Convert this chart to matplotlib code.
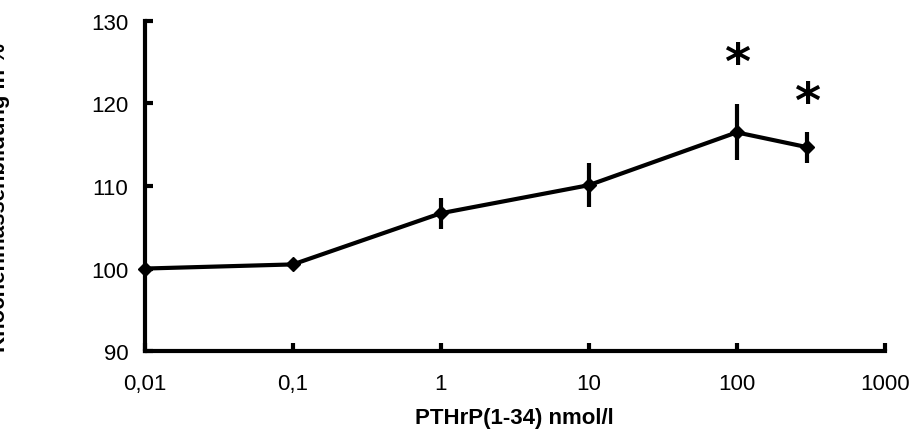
import numpy as np
import matplotlib
matplotlib.use("Agg")
import matplotlib.pyplot as plt
from matplotlib.ticker import FixedLocator, FixedFormatter

plt.rcParams['font.family'] = ['Liberation Sans', 'DejaVu Sans']

# data
conc = [0.01, 0.1, 1, 10, 100, 300]
mean = [100.0, 100.5, 106.7, 110.1, 116.5, 114.7]
err = [0.0, 0.3, 1.9, 2.7, 3.4, 1.9]
star_x = [100, 300]
star_y = [124.8, 120.0]
xticks = [0.01, 0.1, 1, 10, 100, 1000]
xticklabels = ["0,01", "0,1", "1", "10", "100", "1000"]
yticks = [90, 100, 110, 120, 130]

fig = plt.figure(figsize=(9.12, 4.39), dpi=100)
ax = fig.add_axes([0.159, 0.198, 0.811, 0.752])

ax.errorbar(conc, mean, yerr=err, color='black', lw=3, marker='D', ms=7,
            elinewidth=3, capsize=0, clip_on=False, zorder=3)

for x, y in zip(star_x, star_y):
    ax.text(x, y, "*", fontsize=36, fontweight='bold', ha='center', va='center',
            family=['DejaVu Sans'])

ax.set_xscale('log')
ax.set_xlim(0.01, 1000)
ax.set_ylim(90, 130)
ax.xaxis.set_major_locator(FixedLocator(xticks))
ax.xaxis.set_major_formatter(FixedFormatter(xticklabels))
ax.xaxis.set_minor_locator(FixedLocator([]))
ax.set_yticks(yticks)

for s in ['top', 'right']:
    ax.spines[s].set_visible(False)
for s in ['left', 'bottom']:
    ax.spines[s].set_linewidth(3)
ax.tick_params(direction='in', length=6, width=3, labelsize=16)
ax.tick_params(axis='y', pad=12)
ax.tick_params(axis='x', pad=16)

ax.set_xlabel("PTHrP(1-34) nmol/l", fontsize=16, fontweight='bold', labelpad=9)
fig.text(0.0, 0.551, "Knochenmassenbildung in %", rotation=90, fontsize=16,
         fontweight='bold', ha='center', va='center')

fig.savefig("out.png", dpi=100)
